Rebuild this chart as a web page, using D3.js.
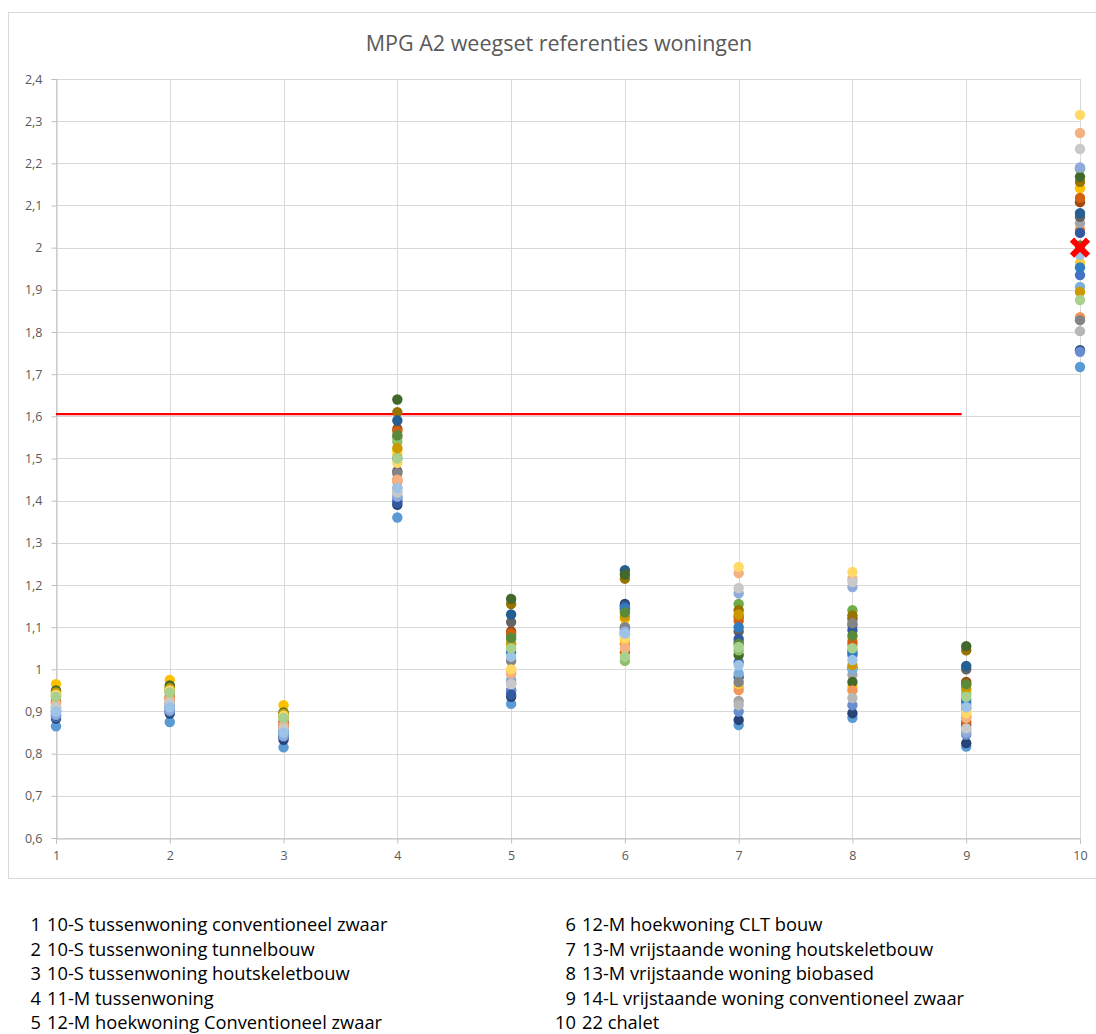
<!DOCTYPE html>
<html>
<head>
<meta charset="utf-8">
<script src="https://cdn.jsdelivr.net/npm/d3@7"></script>
<style>
  body { margin: 0; background: #fff; }
  svg { display: block; }
  text { font-family: "Open Sans", "Liberation Sans", sans-serif; }
</style>
</head>
<body>
<svg id="chart"></svg>
<script>
// x categories (reference houses)
const categories = [1, 2, 3, 4, 5, 6, 7, 8, 9, 10];

// one value per weighting-set series, per reference house
const house1 = [0.89, 0.92, 0.905, 0.965, 0.865, 0.945, 0.883, 0.925, 0.91, 0.935, 0.9, 0.95, 0.888, 0.918, 0.905, 0.94, 0.895, 0.935, 0.89, 0.922, 0.91, 0.945, 0.9, 0.94, 0.892, 0.92, 0.91, 0.94, 0.9, 0.935];
const house2 = [0.9, 0.93, 0.915, 0.975, 0.875, 0.958, 0.895, 0.935, 0.92, 0.945, 0.91, 0.962, 0.9, 0.928, 0.918, 0.95, 0.905, 0.945, 0.9, 0.932, 0.92, 0.955, 0.91, 0.95, 0.902, 0.93, 0.92, 0.95, 0.91, 0.945];
const house3 = [0.84, 0.868, 0.855, 0.915, 0.815, 0.895, 0.833, 0.875, 0.86, 0.885, 0.85, 0.898, 0.84, 0.865, 0.858, 0.89, 0.845, 0.885, 0.84, 0.87, 0.86, 0.895, 0.85, 0.89, 0.842, 0.868, 0.86, 0.89, 0.85, 0.885];
const house4 = [1.405, 1.45, 1.43, 1.52, 1.36, 1.55, 1.39, 1.57, 1.47, 1.61, 1.59, 1.64, 1.4, 1.445, 1.42, 1.51, 1.41, 1.54, 1.395, 1.565, 1.465, 1.525, 1.5, 1.555, 1.41, 1.45, 1.42, 1.49, 1.43, 1.5];
const house5 = [0.95, 0.99, 0.965, 1.06, 0.918, 1.08, 0.935, 1.09, 1.112, 1.155, 1.13, 1.167, 0.95, 0.995, 0.965, 1.0, 0.975, 1.07, 0.94, 1.085, 1.02, 1.06, 1.04, 1.075, 0.97, 0.99, 0.965, 1.0, 1.03, 1.05];
const house6 = [1.1, 1.06, 1.085, 1.12, 1.095, 1.14, 1.155, 1.15, 1.085, 1.215, 1.235, 1.225, 1.145, 1.06, 1.08, 1.07, 1.09, 1.02, 1.15, 1.04, 1.1, 1.125, 1.145, 1.135, 1.09, 1.05, 1.08, 1.075, 1.085, 1.03];
const house7 = [1.017, 1.065, 0.925, 0.96, 0.868, 1.155, 0.88, 1.124, 1.09, 1.14, 0.982, 1.034, 0.9, 0.951, 0.915, 0.965, 0.99, 1.045, 1.072, 1.115, 0.97, 1.13, 1.1, 1.06, 1.18, 1.228, 1.193, 1.243, 1.01, 1.053];
const house8 = [1.034, 1.058, 0.987, 0.958, 0.885, 1.14, 0.896, 1.12, 1.105, 1.128, 1.003, 0.97, 0.915, 0.95, 0.932, 1.074, 1.0, 1.045, 1.093, 1.065, 1.11, 1.01, 1.04, 1.08, 1.195, 1.215, 1.207, 1.231, 1.022, 1.05];
const house9 = [0.92, 0.89, 0.86, 0.951, 0.817, 0.963, 0.825, 0.97, 1.0, 1.045, 1.008, 1.055, 0.845, 0.887, 0.856, 0.945, 0.915, 0.94, 0.868, 0.875, 0.908, 0.955, 0.927, 0.965, 0.85, 0.885, 0.86, 0.896, 0.91, 0.935];
const house10 = [1.935, 2.042, 2.058, 2.141, 1.717, 2.187, 1.757, 2.108, 2.073, 2.156, 2.082, 2.168, 1.753, 1.835, 1.802, 1.964, 1.907, 2.0, 2.035, 2.118, 1.828, 1.895, 1.953, 2.005, 2.19, 2.272, 2.234, 2.315, 1.983, 1.876];

// limit line and marked point
const limitX = [1, 8.96];
const limitY = [1.605, 1.605];
const markX = [10];
const markY = [2.0];

const yTicks = [0.6, 0.7, 0.8, 0.9, 1.0, 1.1, 1.2, 1.3, 1.4, 1.5, 1.6, 1.7, 1.8, 1.9, 2.0, 2.1, 2.2, 2.3, 2.4];

const legendLeft = ["10-S tussenwoning conventioneel zwaar", "10-S tussenwoning tunnelbouw", "10-S tussenwoning houtskeletbouw", "11-M tussenwoning", "12-M hoekwoning Conventioneel zwaar"];
const legendRight = ["12-M hoekwoning CLT bouw", "13-M vrijstaande woning houtskeletbouw", "13-M vrijstaande woning biobased", "14-L vrijstaande woning conventioneel zwaar", "22 chalet"];

// Excel default series palette
const palette = [
  "#4472C4", "#ED7D31", "#A5A5A5", "#FFC000", "#5B9BD5", "#70AD47",
  "#264478", "#9E480E", "#636363", "#997300", "#255E91", "#43682B",
  "#698ED0", "#F1975A", "#B7B7B7", "#FFCD33", "#7CAFDD", "#8CC168",
  "#335AA1", "#D26012", "#848484", "#CC9A00", "#327DC2", "#5A8A39",
  "#8FAADC", "#F4B183", "#C9C9C9", "#FFD966", "#9DC3E6", "#A9D18E"
];

const columns = [house1, house2, house3, house4, house5, house6, house7, house8, house9, house10];
const series = palette.map((color, s) => ({
  color,
  points: categories.map((c, i) => ({ x: c, y: columns[i][s] }))
}));

const svgWidth = 1096;
const svgHeight = 1034;
const plot = { left: 56, right: 1080, top: 79, bottom: 838 };

const svg = d3.select('#chart')
  .attr('width', svgWidth)
  .attr('height', svgHeight);

// chart frame
svg.append('rect')
  .attr('x', 8.5).attr('y', 12.5)
  .attr('width', 1100).attr('height', 866)
  .attr('fill', '#fff')
  .attr('stroke', '#D9D9D9');

const x = d3.scaleLinear().domain([1, 10]).range([plot.left, plot.right]);
const y = d3.scaleLinear().domain([0.6, 2.4]).range([plot.bottom, plot.top]);

const nl = d3.formatLocale({ decimal: ',', thousands: '.', grouping: [3], currency: ['€', ''] });
const fmt = nl.format('~g');

// gridlines
svg.append('g')
  .selectAll('line.h')
  .data(yTicks)
  .enter()
  .append('line')
  .attr('x1', plot.left).attr('x2', plot.right)
  .attr('y1', (d) => Math.round(y(d)) + 0.5).attr('y2', (d) => Math.round(y(d)) + 0.5)
  .attr('stroke', '#D9D9D9');

svg.append('g')
  .selectAll('line.v')
  .data(categories)
  .enter()
  .append('line')
  .attr('x1', (d) => Math.round(x(d)) + 0.5).attr('x2', (d) => Math.round(x(d)) + 0.5)
  .attr('y1', plot.top).attr('y2', plot.bottom)
  .attr('stroke', '#D9D9D9');

// axes
const xAxis = svg.append('g')
  .attr('transform', `translate(0,${Math.round(y(0.6)) + 0.5})`)
  .call(d3.axisBottom(x).tickValues(categories).tickSize(5).tickPadding(8).tickFormat(d3.format('d')));

const yAxis = svg.append('g')
  .attr('transform', `translate(${Math.round(x(1)) + 0.5},0)`)
  .call(d3.axisLeft(y).tickValues(yTicks).tickSize(5).tickPadding(9).tickFormat(fmt));

[xAxis, yAxis].forEach((g) => {
  g.select('.domain').attr('stroke', '#BFBFBF');
  g.selectAll('.tick line').attr('stroke', '#BFBFBF');
  g.selectAll('.tick text')
    .attr('fill', '#595959')
    .style('font-size', '12.5px')
    .style('font-family', '"Open Sans", "Liberation Sans", sans-serif');
});

// limit line
const limitData = limitX.map((v, i) => ({ x: v, y: limitY[i] }));
svg.append('path')
  .datum(limitData)
  .attr('fill', 'none')
  .attr('stroke', '#FF0000')
  .attr('stroke-width', 2.25)
  .attr('d', d3.line().x((d) => x(d.x)).y((d) => y(d.y)));

// scatter points, later series drawn on top
svg.append('g')
  .selectAll('g')
  .data(series)
  .enter()
  .append('g')
  .attr('fill', (d) => d.color)
  .selectAll('circle')
  .data((d) => d.points)
  .enter()
  .append('circle')
  .attr('cx', (d) => x(d.x))
  .attr('cy', (d) => y(d.y))
  .attr('r', 5.2);

// red cross marker
const marks = markX.map((v, i) => ({ x: v, y: markY[i] }));
const cross = svg.append('g')
  .selectAll('g')
  .data(marks)
  .enter()
  .append('g')
  .attr('transform', (d) => `translate(${x(d.x)},${y(d.y)})`);
cross.append('path')
  .attr('d', 'M-8,-8L8,8M8,-8L-8,8')
  .attr('stroke', '#FF0000')
  .attr('stroke-width', 6);

// title
svg.append('text')
  .attr('x', 559)
  .attr('y', 51)
  .attr('text-anchor', 'middle')
  .attr('fill', '#595959')
  .style('font-size', '21.5px')
  .text('MPG A2 weegset referenties woningen');

// legend below chart
const legendTop = 931;
const legendStep = 24.5;
const drawLegend = (items, startNum, numX) => {
  const g = svg.append('g');
  items.forEach((label, i) => {
    g.append('text')
      .attr('x', numX)
      .attr('y', legendTop + i * legendStep)
      .attr('text-anchor', 'end')
      .attr('fill', '#000')
      .style('font-size', '18.3px')
      .text(startNum + i);
    g.append('text')
      .attr('x', numX + 6)
      .attr('y', legendTop + i * legendStep)
      .attr('fill', '#000')
      .style('font-size', '18.3px')
      .text(label);
  });
};
drawLegend(legendLeft, 1, 41);
drawLegend(legendRight, 6, 576);
</script>
</body>
</html>
